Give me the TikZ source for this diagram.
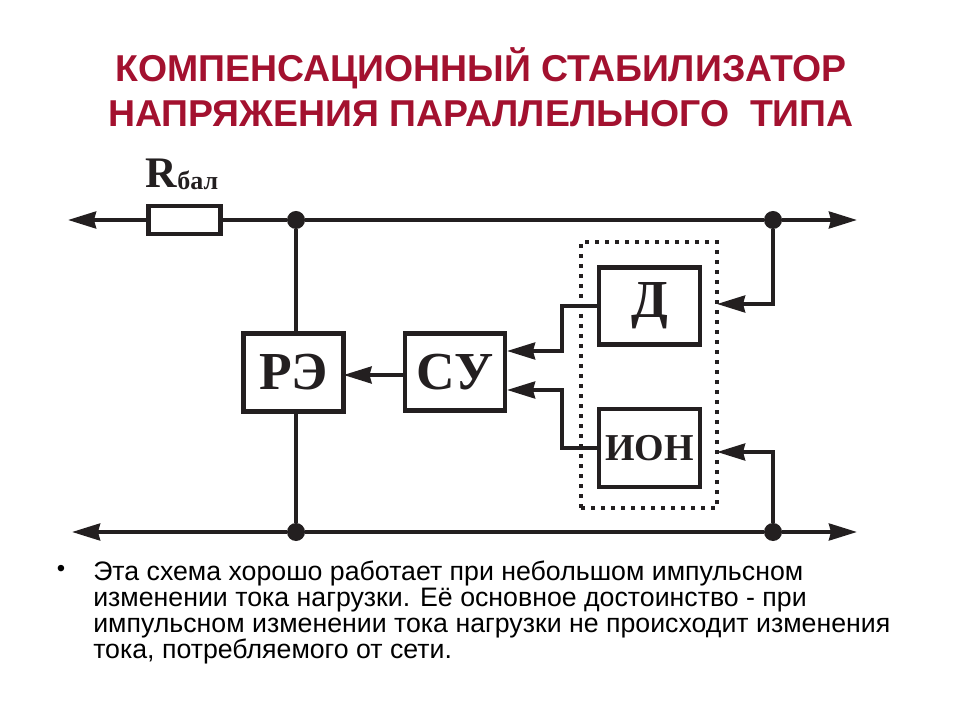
\documentclass[tikz,border=0pt]{standalone}
\usepackage{fontspec}
\usepackage{xcolor}
\usetikzlibrary{arrows.meta}
\setmainfont{Liberation Sans}
\newfontfamily\schemefont{Liberation Serif}
\definecolor{titlered}{HTML}{A3112F}
\definecolor{schemeink}{HTML}{231F20}

\begin{document}
\begin{tikzpicture}[
        x=0.025cm, y=-0.025cm,
        wire/.style={draw=schemeink, line width=0.095cm},
        signal/.style={wire, -{Stealth[length=0.7cm, width=0.42cm, inset=0.05cm]}},
        junction/.style={circle, fill=schemeink, inner sep=0pt, minimum size=0.45cm},
        block/.style={
            draw=schemeink, line width=0.11cm, fill=white, inner sep=0pt, outer sep=0pt,
            text=schemeink, font=\fontsize{38}{38}\schemefont\bfseries
          },
        titletext/.style={text=titlered, font=\fontsize{26.6}{32}\selectfont\bfseries, align=center},
        bodytext/.style={text=black, font=\fontsize{19}{18.5}\selectfont, align=left, anchor=north west, inner sep=0pt}
        ]
        \useasboundingbox (0, 0) rectangle (960, 720);

        \node[titletext] (title) at (481, 87) {КОМПЕНСАЦИОННЫЙ СТАБИЛИЗАТОР\\НАПРЯЖЕНИЯ ПАРАЛЛЕЛЬНОГО~~ТИПА};

        \node[junction] (j1) at (296, 220) {};
        \node[junction] (j2) at (773, 220) {};
        \node[junction] (j3) at (296, 532) {};
        \node[junction] (j4) at (773, 532) {};
        \coordinate (topl) at (68, 220);
        \coordinate (topr) at (857, 220);
        \coordinate (botl) at (72, 532);
        \coordinate (botr) at (857, 532);

        \node[block, minimum width=1.8cm, minimum height=0.7cm] (rbal) at (184.5, 220) {};
        \node[text=schemeink, font=\fontsize{31}{31}\schemefont\bfseries, inner sep=0pt] (rlabel) at (182, 174) {R\raisebox{-0.05cm}{\fontsize{18.5}{18.5}\selectfont бал}};

        \node[block, minimum width=2.5cm, minimum height=1.95cm] (re) at (293.5, 372.5) {\raisebox{-0.2cm}{РЭ}};
        \node[block, minimum width=2.5cm, minimum height=1.92cm] (su) at (455, 372) {\raisebox{-0.2cm}{СУ}};
        \node[block, minimum width=2.52cm, minimum height=1.92cm] (d) at (649.5, 306) {\raisebox{-0.15cm}{Д}};
        \node[block, minimum width=2.52cm, minimum height=1.95cm, font=\fontsize{27}{27}\schemefont\bfseries] (ion) at (649.5, 448) {\raisebox{-0.2cm}{ИОН}};

        \node[draw=schemeink, line width=0.1cm, dash pattern=on 0.1cm off 0.15cm, inner sep=0pt, outer sep=0pt,
            minimum width=3.4cm, minimum height=6.65cm] (ref) at (649, 375) {};

        \coordinate (suout) at (403, 375);
        \coordinate (suin1) at (507, 351);
        \coordinate (suin2) at (507, 390);
        \coordinate (dfeed) at (773, 304);
        \coordinate (ionfeed) at (773, 452);

        \draw[signal] (rbal.west) -- (topl);
        \draw[wire] (rbal.east) -- (j1) -- (j2);
        \draw[signal] (j2) -- (topr);
        \draw[wire] (j3) -- (j4);
        \draw[signal] (j3) -- (botl);
        \draw[signal] (j4) -- (botr);
        \draw[wire] (j1) -- (j1 |- re.north);
        \draw[wire] (j3 |- re.south) -- (j3);
        \draw[signal] (suout) -- (suout -| re.east);
        \draw[signal] (d.west) -| (562, 351) -- (suin1);
        \draw[signal] (ion.west) -| (562, 390) -- (suin2);
        \draw[signal] (j2) |- (dfeed) -- (dfeed -| ref.east);
        \draw[signal] (j4) |- (ionfeed) -- (ionfeed -| ref.east);

        \node[text=black, font=\fontsize{17}{17}\selectfont, inner sep=0pt] (bullet) at (61, 571) {•};
        \node[bodytext] (body) at (93, 561) {Эта схема хорошо работает при небольшом импульсном\\
            изменении тока нагрузки. Её основное достоинство - при\\
            импульсном изменении тока нагрузки не происходит изменения\\
            тока, потребляемого от сети.};
\end{tikzpicture}
\end{document}
